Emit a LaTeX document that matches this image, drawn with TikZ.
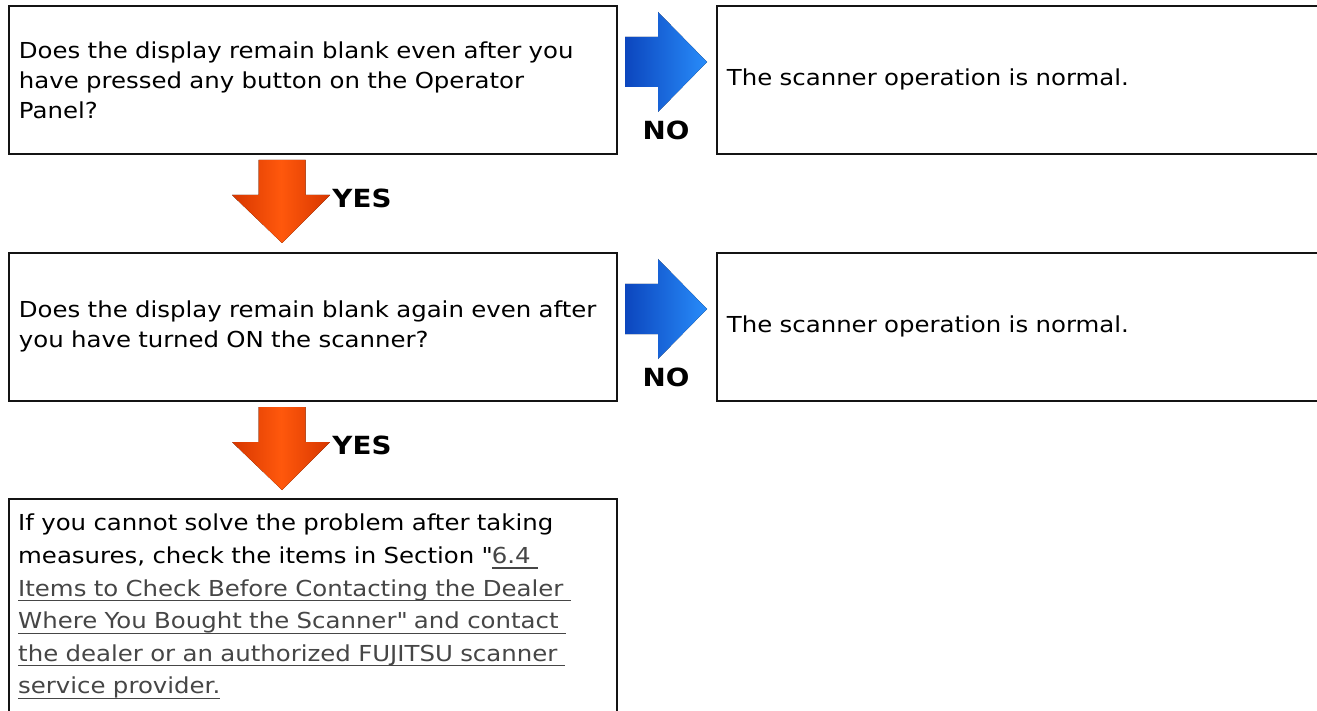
\documentclass[tikz,border=0pt]{standalone}
\usepackage{fontspec}
\setmainfont[FakeStretch=1.11]{DejaVu Sans}
\usetikzlibrary{positioning}
\definecolor{ArrowBlue}{RGB}{40,140,250}
\definecolor{ArrowBlueDark}{RGB}{12,70,190}
\definecolor{ArrowOrange}{RGB}{255,88,12}
\definecolor{ArrowOrangeDark}{RGB}{215,55,0}
\definecolor{LinkGray}{RGB}{70,70,70}
\definecolor{BoxLine}{RGB}{20,20,20}
\newlength\linkwd
\newcommand{\linkline}[1]{\settowidth{\linkwd}{#1}\textcolor{LinkGray}{\rlap{\rule[-5pt]{\linkwd}{1.2pt}}#1}}

\begin{document}
\begin{tikzpicture}[x=1pt, y=-1pt,
    qbox/.style={draw=BoxLine, line width=1.8pt, inner xsep=10pt, text width=588pt, align=left,
                 minimum height=148pt, font=\fontsize{22}{30}\selectfont},
    abox/.style={draw=BoxLine, line width=1.8pt, inner xsep=10pt, text width=600pt, align=left,
                 minimum height=148pt, font=\fontsize{22}{30}\selectfont},
    noarrow/.style={left color=ArrowBlueDark, right color=ArrowBlue, draw=none},
    yesarrow/.style={left color=ArrowOrangeDark, right color=ArrowOrangeDark, middle color=ArrowOrange, draw=none},
    answer/.style={font=\fontsize{25}{25}\selectfont\bfseries, inner sep=0pt}]
  \useasboundingbox (0,0) rectangle (1317,711);
  \clip (0,0) rectangle (1317,711);
  \fill[white] (0,0) rectangle (1317,711);

  % first question
  \node[qbox, anchor=north west] (q1) at (8,5)
    {Does the display remain blank even after you\\ have pressed any button on the Operator\\ Panel?};
  \node[abox, anchor=north west] (a1) at (716,5) {The scanner operation is normal.};
  \fill[noarrow] (625,37) -- (658,37) -- (658,12) -- (707,62) -- (658,112) -- (658,87) -- (625,87) -- cycle;
  \node[answer] (no1) at (666,130) {NO};
  \fill[yesarrow] (258.5,160) -- (305.5,160) -- (305.5,195) -- (330,195) -- (282,243) -- (232,195) -- (258.5,195) -- cycle;
  \node[answer] (yes1) at (362,198) {YES};

  % second question
  \node[qbox, anchor=north west] (q2) at (8,252)
    {Does the display remain blank again even after\\ you have turned ON the scanner?};
  \node[abox, anchor=north west] (a2) at (716,252) {The scanner operation is normal.};
  \fill[noarrow] (625,284) -- (658,284) -- (658,259) -- (707,309) -- (658,359) -- (658,334) -- (625,334) -- cycle;
  \node[answer] (no2) at (666,377) {NO};
  \fill[yesarrow] (258.5,407) -- (305.5,407) -- (305.5,442) -- (330,442) -- (282,490) -- (232,442) -- (258.5,442) -- cycle;
  \node[answer] (yes2) at (362,445) {YES};

  % last box
  \node[draw=BoxLine, line width=1.8pt, anchor=north west, minimum width=608pt, minimum height=260pt] (q3) at (8,498) {};
  \node[anchor=north west, inner xsep=10pt, inner ysep=16pt, text width=588pt, align=left,
        font=\fontsize{22}{32.6}\selectfont] (q3text) at (q3.north west)
    {If you cannot solve the problem after taking\\
     measures, check the items in Section \textquotedbl\linkline{6.4\ }\\
     \linkline{Items to Check Before Contacting the Dealer\ }\\
     \linkline{Where You Bought the Scanner\textquotedbl\ and contact\ }\\
     \linkline{the dealer or an authorized FUJITSU scanner\ }\\
     \linkline{service provider.}};
\end{tikzpicture}
\end{document}
